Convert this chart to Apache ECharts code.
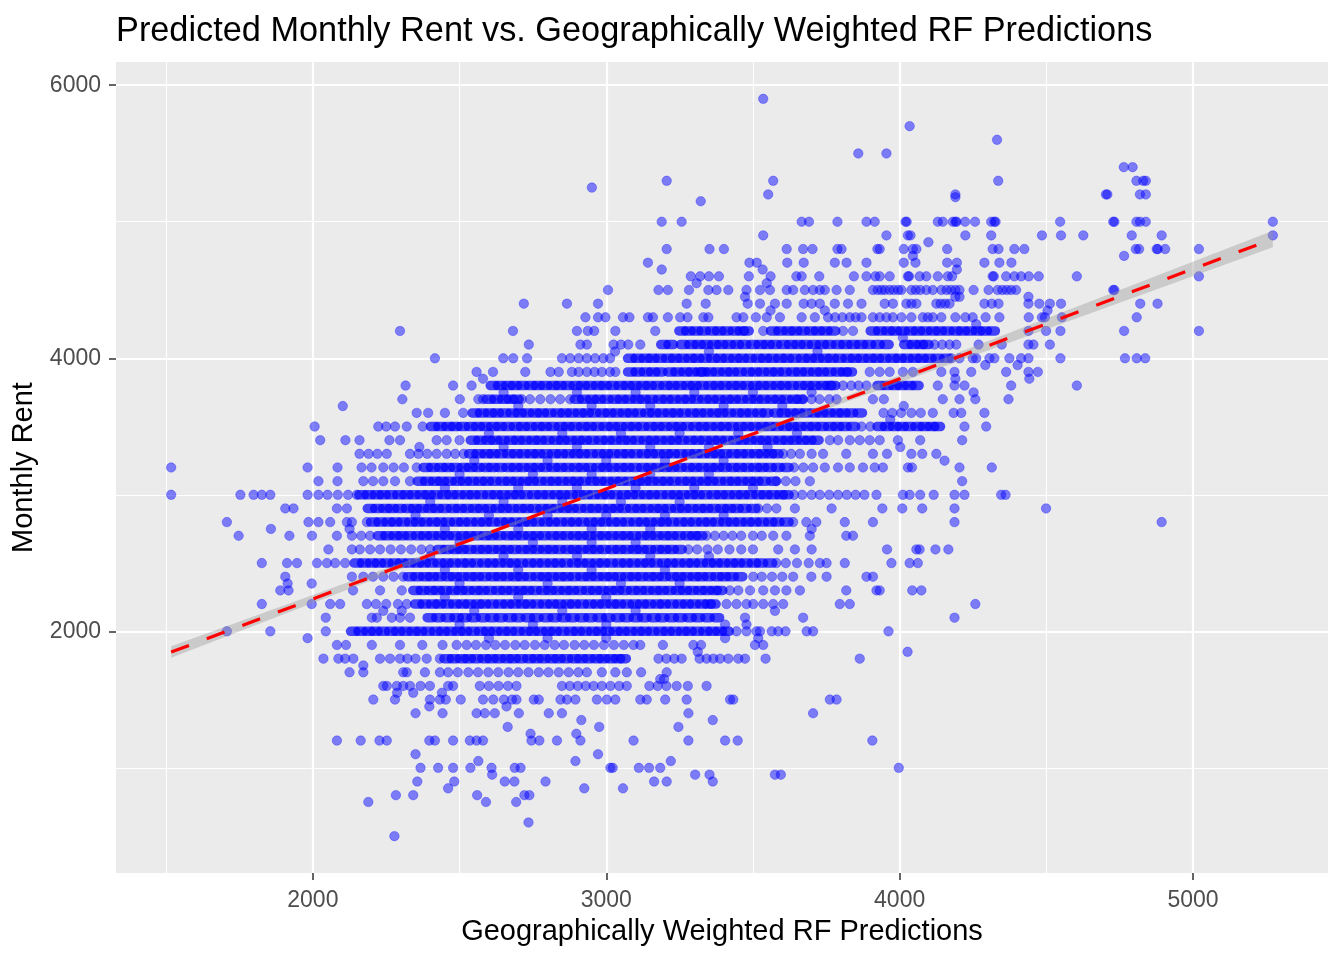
<!DOCTYPE html>
<html><head><meta charset="utf-8">
<script src="https://cdn.jsdelivr.net/npm/echarts@6.0.0/dist/echarts.min.js"></script>
<style>html,body{margin:0;padding:0;background:#fff}#c{width:1344px;height:960px}</style>
</head><body><div id="c"></div><script>
// ---------- data ----------
const titleText = 'Predicted Monthly Rent vs. Geographically Weighted RF Predictions';
const xName = 'Geographically Weighted RF Predictions';
const yName = 'Monthly Rent';
const xTicks = [2000, 3000, 4000, 5000];
const yTicks = [2000, 4000, 6000];
const xMinorGrid = [1500, 2500, 3500, 4500];
const yMinorGrid = [1000, 3000, 5000];

// densely over-plotted rows (rent level -> predicted values)
const coreRent = [4200, 4100, 4000, 3900, 3800, 3700, 3600, 3500, 3400, 3300, 3200, 3100, 3000, 2900, 2800, 2700, 2600, 2500, 2400, 2300, 2200, 2100, 2000, 1800];
const coreX = [
 [3257,3280,3306,3332,3361,3385,3410,3438,3462,3478,3569,3594,3621,3644,3670,3698,3722,3747,3773,3909,3934,3961,3984,4010,4038,4062,4087,4114,4137,4163,4191,4215,4240,4267,4290,4317],
 [3195,3220,3262,3290,3315,3340,3368,3392,3418,3445,3470,3500,3526,3550,3575,3604,3630,3655,3680,3708,3735,3760,3790,3815,3842,3868,3895,3925,3955,4023,4048,4072,4091],
 [3082,3107,3134,3157,3183,3211,3235,3260,3287,3310,3336,3364,3388,3413,3440,3463,3489,3517,3541,3566,3593,3616,3642,3670,3694,3719,3746,3769,3795,3823,3847,3872,3899,3922,3948,3976,4000,4025,4052,4075,4101,4129,4159],
 [3082,3108,3135,3160,3184,3218,3243,3270,3293,3319,3331,3354,3379,3406,3429,3455,3483,3507,3532,3559,3582,3608,3636,3660,3685,3712,3735,3761,3789,3813,3830],
 [2614,2639,2666,2689,2715,2743,2767,2792,2819,2842,2868,2896,2920,2945,2972,2995,3021,3049,3073,3098,3125,3148,3174,3202,3226,3251,3278,3301,3327,3355,3379,3404,3431,3454,3480,3508,3532,3557,3584,3607,3633,3661,3685,3710,3737,3760,3773,3932,3957,3984,4007,4033,4057],
 [2600,2625,2652,2675,2694,2900,2925,2952,2975,3001,3029,3053,3078,3105,3128,3154,3182,3206,3231,3258,3281,3307,3335,3359,3384,3411,3434,3460,3488,3512,3537,3564,3587,3613,3641,3660],
 [2552,2577,2604,2627,2653,2681,2705,2730,2757,2780,2806,2834,2858,2883,2910,2933,2959,2987,3011,3036,3063,3086,3112,3140,3164,3189,3216,3239,3265,3293,3317,3342,3369,3392,3418,3446,3470,3495,3522,3546,3580,3605,3632,3655,3681,3709,3733,3758,3785,3808,3834,3864],
 [2410,2435,2462,2485,2511,2539,2563,2588,2615,2638,2664,2692,2716,2741,2768,2791,2817,2845,2869,2894,2921,2944,2970,2998,3022,3047,3074,3097,3123,3151,3175,3200,3227,3250,3276,3304,3328,3353,3380,3403,3429,3457,3481,3506,3533,3556,3582,3610,3634,3659,3686,3709,3735,3763,3787,3812,3841,3932,3957,3984,4007,4033,4061,4085,4110,4130],
 [2546,2571,2598,2621,2647,2675,2699,2724,2751,2774,2800,2828,2852,2877,2904,2927,2953,2981,3005,3030,3057,3080,3106,3134,3158,3183,3210,3233,3259,3287,3311,3336,3363,3386,3412,3440,3464,3489,3516,3539,3565,3593,3617,3642,3669,3692,3716],
 [2540,2565,2592,2615,2641,2669,2693,2718,2745,2768,2794,2822,2846,2871,2898,2921,2947,2975,2999,3024,3051,3074,3100,3128,3152,3177,3204,3227,3253,3281,3305,3330,3357,3380,3406,3434,3458,3483,3510,3533,3559,3580],
 [2385,2410,2437,2460,2486,2514,2538,2563,2590,2613,2639,2667,2691,2716,2743,2766,2792,2820,2844,2869,2896,2919,2945,2973,2997,3022,3049,3072,3098,3126,3150,3175,3202,3225,3251,3279,3303,3328,3355,3378,3404,3432,3456,3481,3508,3531,3557,3585,3614],
 [2365,2390,2417,2440,2466,2494,2518,2543,2570,2593,2619,2647,2671,2696,2723,2746,2772,2800,2824,2849,2876,2899,2925,2953,2977,3002,3029,3052,3078,3106,3130,3155,3182,3205,3231,3259,3283,3308,3335,3358,3384,3412,3436,3461,3488,3511,3537,3569],
 [2166,2191,2218,2241,2267,2295,2319,2344,2371,2394,2420,2448,2472,2497,2524,2547,2573,2601,2625,2650,2677,2700,2726,2754,2778,2803,2830,2853,2879,2907,2931,2956,2983,3006,3032,3060,3084,3109,3136,3159,3185,3213,3237,3262,3289,3312,3338,3366,3390,3415,3442,3465,3491,3519,3543,3568,3595,3614],
 [2195,2220,2247,2270,2296,2324,2348,2373,2400,2423,2449,2477,2501,2526,2553,2576,2602,2630,2654,2679,2706,2729,2755,2783,2807,2832,2859,2882,2908,2936,2960,2985,3012,3035,3061,3089,3113,3138,3165,3188,3214,3242,3266,3291,3318,3341,3367,3395,3419,3444,3471,3501],
 [2206,2231,2258,2281,2307,2335,2359,2384,2411,2434,2460,2488,2512,2537,2564,2587,2613,2641,2665,2690,2717,2740,2766,2794,2818,2843,2870,2893,2919,2947,2971,2996,3023,3046,3072,3100,3124,3149,3176,3199,3225,3253,3277,3302,3329,3352,3378,3406,3430,3455,3482,3505,3531,3559,3583,3614],
 [2229,2254,2281,2304,2330,2358,2382,2407,2434,2457,2483,2511,2535,2560,2587,2610,2636,2664,2688,2713,2740,2763,2789,2817,2841,2866,2893,2916,2942,2970,2994,3019,3046,3069,3095,3123,3147,3172,3199,3222,3248,3276,3300,3320],
 [2433,2458,2485,2508,2534,2562,2586,2611,2638,2661,2687,2715,2739,2764,2791,2814,2840,2868,2892,2917,2944,2967,2993,3021,3045,3070,3097,3120,3146,3174,3198,3223,3250],
 [2150,2175,2202,2225,2251,2279,2303,2328,2355,2378,2404,2432,2456,2481,2508,2531,2557,2585,2609,2634,2661,2684,2710,2738,2762,2787,2814,2837,2863,2891,2915,2940,2967,2990,3016,3044,3068,3093,3120,3143,3169,3197,3221,3246,3273,3296,3322,3350,3374,3399,3426,3449,3475,3503,3527,3558],
 [2331,2356,2383,2406,2432,2460,2484,2509,2536,2559,2585,2613,2637,2662,2689,2712,2738,2766,2790,2815,2842,2865,2891,2919,2943,2968,2995,3018,3044,3072,3096,3121,3148,3171,3197,3225,3249,3274,3301,3324,3350,3378,3402,3427,3456],
 [2350,2375,2402,2425,2451,2479,2503,2528,2555,2578,2604,2632,2656,2681,2708,2731,2757,2785,2809,2834,2861,2884,2910,2938,2962,2987,3014,3037,3063,3091,3115,3140,3167,3190,3216,3244,3268,3293,3320,3343,3369,3388],
 [2356,2381,2409,2431,2458,2485,2510,2534,2562,2584,2611,2638,2663,2687,2715,2737,2764,2791,2816,2840,2868,2890,2917,2944,2969,2993,3021,3043,3070,3097,3122,3146,3174,3196,3223,3250,3275,3299,3327,3349,3365],
 [2399,2428,2460,2490,2517,2548,2580,2611,2640,2672,2700,2733,2762,2795,2824,2856,2885,2917,2946,2978,3007,3040,3069,3101,3130,3162,3191,3223,3252,3284,3313,3345,3377],
 [2138,2163,2190,2213,2239,2267,2291,2316,2343,2366,2392,2420,2444,2469,2496,2519,2545,2573,2597,2622,2649,2672,2698,2726,2750,2775,2802,2825,2851,2879,2903,2928,2955,2978,3004,3032,3056,3081,3108,3131,3157,3185,3209,3234,3261,3284,3310,3338,3362,3387,3410],
 [2456,2481,2508,2531,2557,2585,2609,2634,2661,2684,2710,2738,2762,2787,2814,2837,2863,2891,2915,2940,2967,2990,3016,3040,3059]
];

// individually visible points (rent level -> predicted values)
const looseRent = [5900,5700,5600,5500,5400,5300,5250,5200,5180,5150,5000,4900,4850,4800,4750,4700,4650,4600,4550,4500,4450,4400,4350,4300,4250,4200,4150,4100,4050,4000,3950,3900,3850,3800,3750,3700,3650,3600,3550,3500,3450,3400,3350,3300,3250,3200,3150,3100,3050,3000,2950,2900,2850,2800,2750,2700,2650,2600,2550,2500,2450,2400,2350,2300,2250,2200,2150,2100,2050,2000,1950,1900,1900,1850,1800,1750,1700,1700,1650,1600,1600,1550,1500,1500,1450,1400,1350,1300,1250,1200,1100,1050,1000,950,900,850,800,750,600,500];
const looseX = [
 [3535],
 [4034],
 [4332],
 [3859,3955],
 [4764,4794],
 [3206,3569,4336,4807,4830,4839],
 [2951],
 [3552,4190,4703,4708,4819,4839],
 [4190],
 [3322],
 [3189,3257,3666,3691,3788,3887,3915,4020,4024,4130,4147,4181,4190,4194,4223,4257,4312,4323,4327,4547,4728,4732,4807,4819,4839,5272],
 [3535,3955,4028,4037,4224,4312,4485,4550,4626,4791,4893,5272],
 [4098],
 [3206,3352,3401,3615,3671,3703,3788,3802,3924,3932,4014,4045,4057,4162,4317,4337,4391,4425,4805,4816,4876,4880,4905,5020],
 [4045,4765],
 [3142,3488,3513,3617,3673,3779,3819,3887,4014,4054,4162,4195,4289,4340,4381],
 [3189,3533,4195],
 [3288,3320,3350,3384,3486,3560,3648,3666,3726,3844,3887,3917,3932,3966,4028,4032,4068,4091,4130,4164,4179,4317,4321,4363,4391,4414,4440,4474,4604,5020],
 [3308,3547],
 [3006,3178,3210,3282,3348,3376,3416,3478,3524,3558,3615,3637,3677,3705,3728,3745,3785,3830,3909,3925,3938,3950,3966,3980,3995,4006,4040,4055,4070,4091,4113,4142,4160,4175,4190,4204,4252,4303,4334,4350,4365,4380,4397,4728,4732],
 [3473,4190,4204,4439],
 [2719,2866,2972,3274,3339,3482,3524,3575,3615,3673,3700,3728,3779,3824,3870,3949,3977,4023,4040,4057,4125,4140,4155,4170,4289,4314,4337,4439,4476,4512,4550,4820,4879],
 [3560,3745,4504],
 [2929,2972,2997,3057,3079,3142,3159,3210,3252,3277,3331,3348,3444,3467,3510,3547,3592,3666,3711,3756,3780,3805,3830,3850,3870,3909,3932,3955,3977,4006,4040,4079,4096,4113,4142,4190,4224,4249,4293,4340,4440,4485,4495,4553,4808],
 [4261],
 [2297,2682,2900,2937,2959,3031,3167,3535,3807,3841,4439,4499,4548,4765,5020],
 [4011],
 [2736,2912,2934,3025,3050,3075,3116,4119,4145,4170,4193,4269,4348,4439,4456,4512],
 [3030,3350,3720],
 [2416,2649,2683,2730,2849,2877,2906,2934,2962,2990,3013,4176,4204,4249,4261,4306,4323,4374,4414,4439,4548,4768,4808,4837],
 [4292,4402],
 [2558,2614,2724,2810,2838,2883,2906,2934,2960,2985,3013,3031,3898,3932,3966,4011,4045,4142,4187,4244,4363,4439,4471],
 [2580,4190,4442],
 [2316,2478,2541,3807,3835,3860,3887,4130,4187,4221,4380,4604],
 [2650,2900,3100,3300,3500,3700,4252],
 [2305,2501,2564,2580,2712,2740,2775,2810,2843,2877,3672,3700,3727,3760,3785,3909,3946,4147,4204,4258,4371],
 [2102,2700,2950,3150,3400,3600,4014],
 [2354,2393,2450,2512,3945,3975,4005,4040,4072,4113,4184,4210,4289],
 [3968],
 [2006,2223,2250,2280,2320,2374,3870,3900,4221,4295],
 [2600,2850,3050,3250,3450,3650],
 [2025,2111,2159,2261,2297,2422,2456,2500,3762,3790,3830,3864,3898,3932,3994,4070,4213],
 [2363,2650,2900,3150,3350,3550,4002],
 [2159,2190,2220,2252,2331,2360,2390,2422,2456,2485,2514,3603,3630,3660,3700,3739,3818,3909,3957,4040,4077,4125],
 [2550,2800,3000,3200,3400,4153],
 [1517,1982,2084,2166,2200,2240,2275,2310,2354,3640,3672,3705,3745,3790,3830,3875,3915,3943,4028,4042,4204,4314],
 [2500,2750,2950,3150,3350],
 [2019,2084,2172,2205,2240,2280,2331,3580,3612,3645,3694,4213],
 [2450,2700,2900,3100,3300,3500],
 [1517,1753,1798,1826,1855,1982,2019,2050,2085,2120,2150,3640,3668,3700,3728,3760,3790,3820,3850,3880,3921,4011,4034,4070,4116,4187,4221,4346,4361],
 [2400,2650,2850,3050,3250],
 [1906,1934,2082,2116,3518,3548,3580,3643,3768,3941,4009,4077,4187,4499],
 [2350,2600,2800,3000,3200,3400],
 [1707,1985,2019,2059,2116,2133,2184,3637,3682,3716,3813,3909,4187,4893],
 [1857,2125,2450,2700,2950,3150,3700],
 [1747,1920,1997,2082,2133,2165,2195,3342,3370,3400,3430,3460,3500,3530,3569,3614,3694,3818,3841],
 [2500,2750,2950,3100],
 [2053,2133,2160,2195,2229,2265,2300,2335,2370,2400,3280,3310,3345,3380,3420,3460,3500,3586,3643,3700,3957,4057,4068,4122,4166],
 [2400,2650,2900,3150,3350],
 [1826,1912,1946,2014,2048,2076,2110,3580,3612,3650,3690,3728,3751,3813,3972,4034,4062],
 [2450,2700,2950,3200],
 [1906,2133,2172,2205,2240,2275,2308,3501,3530,3565,3600,3637,3699,3751,3887,3909],
 [1914,1996,2500,2800,3050,3250],
 [1889,1917,2137,2229,2303,3421,3450,3490,3535,3575,3614,3660,3818,3921,3932,4043,4074],
 [2450,2700,3000],
 [1826,1996,2059,2093,2184,2215,2250,2290,2320,3410,3444,3478,3501,3535,3569,3603,3796,3830,4258],
 [2240,2303,2550,2850,3100,3575],
 [2044,2201,2218,2269,2297,2331,3473,3671,4187],
 [2500,2750,3000,3405,3478],
 [1707,1855,2044,3444,3478,3512,3524,3564,3586,3611,3683,3705,3962],
 [1982,2600,2800,3000,3405,3518],
 [2082,2113,2201,2297,2373,2442,2490,3116,3193,3297,3323,3507,3535],
 [2524,2556,2590,2622,2655,2690,2722,2757,2790,2824,2856,2892,2925,2958,2992,3026,3060,3093],
 [3312,4027],
 [2036,2087,2110,2138,2229,2263,2297,2322,2350,2388,2433,3178,3205,3232,3257,3318,3342,3365,3388,3416,3450,3473,3543,3864],
 [2172],
 [2125,2172,2308,2320,2382,2433,2985,3031,3070,3119,3206],
 [2461,2494,2530,2563,2598,2632,2667,2700,2735,2770,2803,2838,2872,2905,2934],
 [3184,3197],
 [2240,2252,2286,2308,2331,2367,2399,2461,2478,2985,3014,3278,3342],
 [2569,2600,2633,2665,2694,2849,2876,2903,2930,2957,3044,3070,3147,3175,3205,3240],
 [2287,2342,2440],
 [2206,2280,2399,2433,2453,2504,2651,2679,2753,2770,2844,2866,2895,2968,3002,3031,3116,3138,3201,3274,3422,3433,3762,3785],
 [2580,2615,2694],
 [2397,2660],
 [2350,2442,2558,2586,2620,2702,2804,2849,3280,3705],
 [2915,3363],
 [2664,2976,3246],
 [2742,2898],
 [2082,2163,2227,2252,2397,2416,2478,2535,2558,2580,2745,2772,2832,2912,3093,3280,3405,3448,3907],
 [2350,2972],
 [2564,2895,3220],
 [2367,2427,2478,2537,2609,2688,2708,3014,3022,3111,3146,3184,3997],
 [2611,3303,3352,3575,3595],
 [2356,2482,2654,2687,2793,3163,3206,3363],
 [2461,2925,3057],
 [2283,2342,2560,2721,2738],
 [2189,2590,2693],
 [2735],
 [2278]
];

// linear fit and its confidence band
const fitX = [1517, 5272];
const fitY = [1848, 4874];
const bandX = [1517, 2000, 2500, 3000, 3500, 4000, 4500, 5272];
const bandLow = [1806, 2208, 2624, 3035, 3432, 3822, 4212, 4814];
const bandHigh = [1890, 2266, 2656, 3051, 3460, 3876, 4292, 4934];

// ---------- build ----------
const FONT = '"Liberation Sans", Arial, sans-serif';
function rowsToPoints(rents, xs) {
  const out = [];
  rents.forEach((r, i) => xs[i].forEach(x => out.push([x, r])));
  return out;
}
const corePts = rowsToPoints(coreRent, coreX);
const loosePts = rowsToPoints(looseRent, looseX);

const gridLines = [];
xTicks.forEach(v => gridLines.push({xAxis: v, lineStyle: {color: '#FFFFFF', width: 2.2, type: 'solid'}}));
xMinorGrid.forEach(v => gridLines.push({xAxis: v, lineStyle: {color: '#FFFFFF', width: 1.1, type: 'solid'}}));
yTicks.forEach(v => gridLines.push({yAxis: v, lineStyle: {color: '#FFFFFF', width: 2.2, type: 'solid'}}));
yMinorGrid.forEach(v => gridLines.push({yAxis: v, lineStyle: {color: '#FFFFFF', width: 1.1, type: 'solid'}}));

// overlapping markers in the dense rows merge into a continuous run
const runSymbol = 'path://M4.75,0 L10.25,0 A4.75,4.75 0 0 1 10.25,9.5 L4.75,9.5 A4.75,4.75 0 0 1 4.75,0 Z';

const chart = echarts.init(document.getElementById('c'), null, {renderer: 'canvas'});
const axisCommon = {
  type: 'value',
  nameLocation: 'middle',
  nameTextStyle: {fontFamily: FONT, fontSize: 29, color: '#000000'},
  axisLine: {show: false},
  splitLine: {show: false},
  minorSplitLine: {show: false}
};
chart.setOption({
  animation: false,
  backgroundColor: '#FFFFFF',
  title: {
    text: titleText, left: 116, top: 15, padding: 0,
    textStyle: {fontFamily: FONT, fontSize: 34.3, fontWeight: 'normal', color: '#000000'}
  },
  grid: {left: 116, right: 16, top: 62, bottom: 87, show: true, backgroundColor: '#EBEBEB', borderWidth: 0,
         containLabel: false, outerBoundsMode: 'none'},
  xAxis: Object.assign({}, axisCommon, {
    min: 1329, max: 5460, name: xName, nameGap: 44,
    axisTick: {show: true, customValues: xTicks, length: 7, lineStyle: {color: '#333333', width: 1.5}},
    axisLabel: {customValues: xTicks, margin: 16, color: '#4D4D4D', fontSize: 23, fontFamily: FONT,
                formatter: v => String(v)}
  }),
  yAxis: Object.assign({}, axisCommon, {
    min: 230, max: 6170, name: yName, nameGap: 67,
    axisTick: {show: true, customValues: yTicks, length: 7, lineStyle: {color: '#333333', width: 1.5}},
    axisLabel: {customValues: yTicks, margin: 15, color: '#4D4D4D', fontSize: 23, fontFamily: FONT,
                formatter: v => String(v)}
  }),
  series: [
    {type: 'scatter', data: [], silent: true, z: 1,
     markLine: {silent: true, z: 1, symbol: ['none', 'none'], label: {show: false}, animation: false, emphasis: {disabled: true}, data: gridLines}},
    {type: 'scatter', data: loosePts, symbol: 'circle', symbolSize: 9.5, z: 2, silent: true,
     itemStyle: {color: 'rgba(0,0,255,0.6)', borderColor: 'rgba(0,0,255,0.45)', borderWidth: 0.8}},
    {type: 'scatter', data: corePts, symbol: runSymbol, symbolSize: [15, 9.5], z: 2, silent: true,
     itemStyle: {color: 'rgba(0,0,255,0.9)', borderWidth: 0}},
    {type: 'custom', coordinateSystem: 'cartesian2d', data: [[bandX[0], bandLow[0]]], z: 3, silent: true, clip: true,
     renderItem: function (params, api) {
       const pts = [];
       for (let i = 0; i < bandX.length; i++) pts.push(api.coord([bandX[i], bandHigh[i]]));
       for (let i = bandX.length - 1; i >= 0; i--) pts.push(api.coord([bandX[i], bandLow[i]]));
       return {type: 'polygon', shape: {points: pts}, style: {fill: 'rgba(153,153,153,0.4)'}};
     }},
    {type: 'line', data: fitX.map((x, i) => [x, fitY[i]]), symbol: 'none', z: 4, silent: true,
     lineStyle: {color: '#FF0000', width: 3.2, type: [19, 19]}}
  ]
});
</script></body></html>
